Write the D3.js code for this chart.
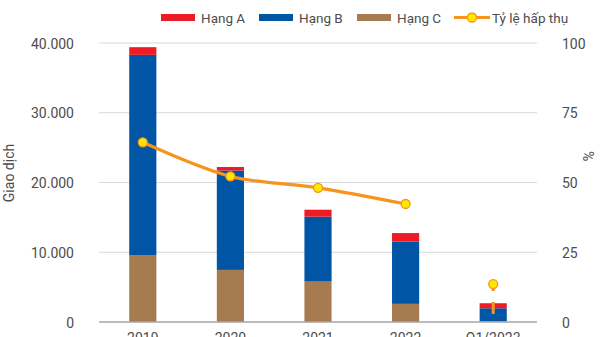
<!DOCTYPE html>
<html>
<head>
<meta charset="utf-8">
<script src="https://cdn.jsdelivr.net/npm/d3@7"></script>
<style>
  html, body { margin: 0; padding: 0; background: #fff; }
  svg { display: block; font-family: Roboto, "Noto Sans", sans-serif; }
</style>
</head>
<body>
<svg id="chart" width="600" height="337"></svg>
<script>
// ---- data ----
const categories = ["2019", "2020", "2021", "2022", "Q1/2023"];
const hangA = [1100, 500, 1000, 1200, 720];
const hangB = [28700, 14250, 9300, 8950, 1870];
const hangC = [9600, 7470, 5800, 2600, 100];
const tyLe = [64.4, 52.2, 48.1, 42.3, 13.6];   // % (right axis)
const tyLeDrop = 2.9;                          // lower end of the Q1 marker stem, %
const leftTicks = [0, 10000, 20000, 30000, 40000];
const rightTicks = [0, 25, 50, 75, 100];
const seriesNames = ["Hạng A", "Hạng B", "Hạng C", "Tỷ lệ hấp thụ"];

// ---- layout ----
const svg = d3.select("#chart");
const W = 600, H = 337;
const plot = { left: 99, right: 537, top: 43, bottom: 322 };
const colors = { A: "#ED1C24", B: "#0055A5", C: "#A67B4F", line: "#F7941D", marker: "#FFE800" };
const textColor = "#4d4d4d";

const x = d3.scaleBand().domain(categories).range([plot.left, plot.right]).paddingInner(0.69).paddingOuter(0.345);
const yL = d3.scaleLinear().domain([0, 40000]).range([plot.bottom, plot.top]);
const yR = d3.scaleLinear().domain([0, 100]).range([plot.bottom, plot.top]);

const fmt = d => d === 0 ? "0" : d3.format(",")(d).replace(/,/g, ".");

// gridlines
svg.append("g")
  .selectAll("line").data(leftTicks.filter(d => d > 0)).join("line")
  .attr("x1", plot.left).attr("x2", plot.right)
  .attr("y1", d => yL(d)).attr("y2", d => yL(d))
  .attr("stroke", "#d9d9d9").attr("stroke-width", 1.2);

// left axis labels
const leftAxis = svg.append("g").attr("transform", `translate(${plot.left - 25},0)`)
  .call(d3.axisLeft(yL).tickValues(leftTicks).tickFormat(fmt).tickSize(0).tickPadding(0));
leftAxis.select(".domain").remove();
leftAxis.selectAll("text").attr("font-size", 14).attr("fill", textColor).attr("font-family", "Roboto").attr("dy", "0.36em");

// right axis labels
const rightAxis = svg.append("g").attr("transform", `translate(${plot.right + 25},0)`)
  .call(d3.axisRight(yR).tickValues(rightTicks).tickSize(0).tickPadding(0));
rightAxis.select(".domain").remove();
rightAxis.selectAll("text").attr("font-size", 14).attr("fill", textColor).attr("font-family", "Roboto").attr("dy", "0.36em");

// axis titles
svg.append("text").attr("transform", `translate(14,173) rotate(-90)`)
  .attr("text-anchor", "middle").attr("font-size", 14).attr("fill", textColor).text("Giao dịch");
svg.append("text").attr("transform", `translate(583,156) rotate(90)`)
  .attr("text-anchor", "middle").attr("font-size", 14).attr("fill", textColor).text("%");

// stacked bars
const rows = categories.map((c, i) => ({ cat: c, C: hangC[i], B: hangB[i], A: hangA[i] }));
const stack = d3.stack().keys(["C", "B", "A"])(rows);
svg.append("g").selectAll("g").data(stack).join("g")
  .attr("fill", d => colors[d.key])
  .selectAll("rect").data(d => d).join("rect")
  .attr("x", d => x(d.data.cat)).attr("width", x.bandwidth())
  .attr("y", d => yL(d[1])).attr("height", d => yL(d[0]) - yL(d[1]));

// x axis line
svg.append("line").attr("x1", plot.left).attr("x2", plot.right)
  .attr("y1", yL(0)).attr("y2", yL(0)).attr("stroke", "#a6a6a6").attr("stroke-width", 1.5);

// x labels
const xAxis = svg.append("g").attr("transform", `translate(0,${plot.bottom + 11})`)
  .call(d3.axisBottom(x).tickSize(0).tickPadding(0));
xAxis.select(".domain").remove();
xAxis.selectAll("text").attr("font-size", 14).attr("fill", textColor).attr("font-family", "Roboto").attr("dy", "0.71em");

// line (first four points connected, smoothed)
const cx = c => x(c) + x.bandwidth() / 2;
const linePts = categories.slice(0, 4).map((c, i) => [cx(c), yR(tyLe[i])]);
svg.append("path").datum(linePts)
  .attr("d", d3.line().curve(d3.curveCatmullRom.alpha(0.5)))
  .attr("fill", "none").attr("stroke", colors.line).attr("stroke-width", 3.2).attr("stroke-linecap", "round");

// Q1 stem
const q1 = categories[4];
svg.append("line")
  .attr("x1", cx(q1)).attr("x2", cx(q1))
  .attr("y1", yR(tyLeDrop)).attr("y2", yR(tyLe[4]))
  .attr("stroke", colors.line).attr("stroke-width", 3)
  .attr("stroke-dasharray", "12,11");

// markers
svg.append("g").selectAll("circle").data(categories).join("circle")
  .attr("cx", d => cx(d)).attr("cy", (d, i) => yR(tyLe[i])).attr("r", 4.5)
  .attr("fill", colors.marker).attr("stroke", colors.line).attr("stroke-width", 1.3);

// legend
const lg = svg.append("g");
const legendItems = [
  { name: seriesNames[0], type: "rect", color: colors.A, x: 161 },
  { name: seriesNames[1], type: "rect", color: colors.B, x: 259 },
  { name: seriesNames[2], type: "rect", color: colors.C, x: 357 },
  { name: seriesNames[3], type: "line", color: colors.line, x: 454 }
];
legendItems.forEach(it => {
  if (it.type === "rect") {
    lg.append("rect").attr("x", it.x).attr("y", 14).attr("width", 34).attr("height", 7).attr("fill", it.color);
    lg.append("text").attr("x", it.x + 40).attr("y", 22.5).attr("font-size", 13.5).attr("fill", textColor).text(it.name);
  } else {
    lg.append("line").attr("x1", it.x).attr("x2", it.x + 36).attr("y1", 17.5).attr("y2", 17.5)
      .attr("stroke", it.color).attr("stroke-width", 3.2);
    lg.append("circle").attr("cx", it.x + 18).attr("cy", 17.5).attr("r", 4.5)
      .attr("fill", colors.marker).attr("stroke", it.color).attr("stroke-width", 1.3);
    lg.append("text").attr("x", it.x + 38).attr("y", 22.5).attr("font-size", 13.5).attr("fill", textColor).text(it.name);
  }
});
</script>
</body>
</html>
